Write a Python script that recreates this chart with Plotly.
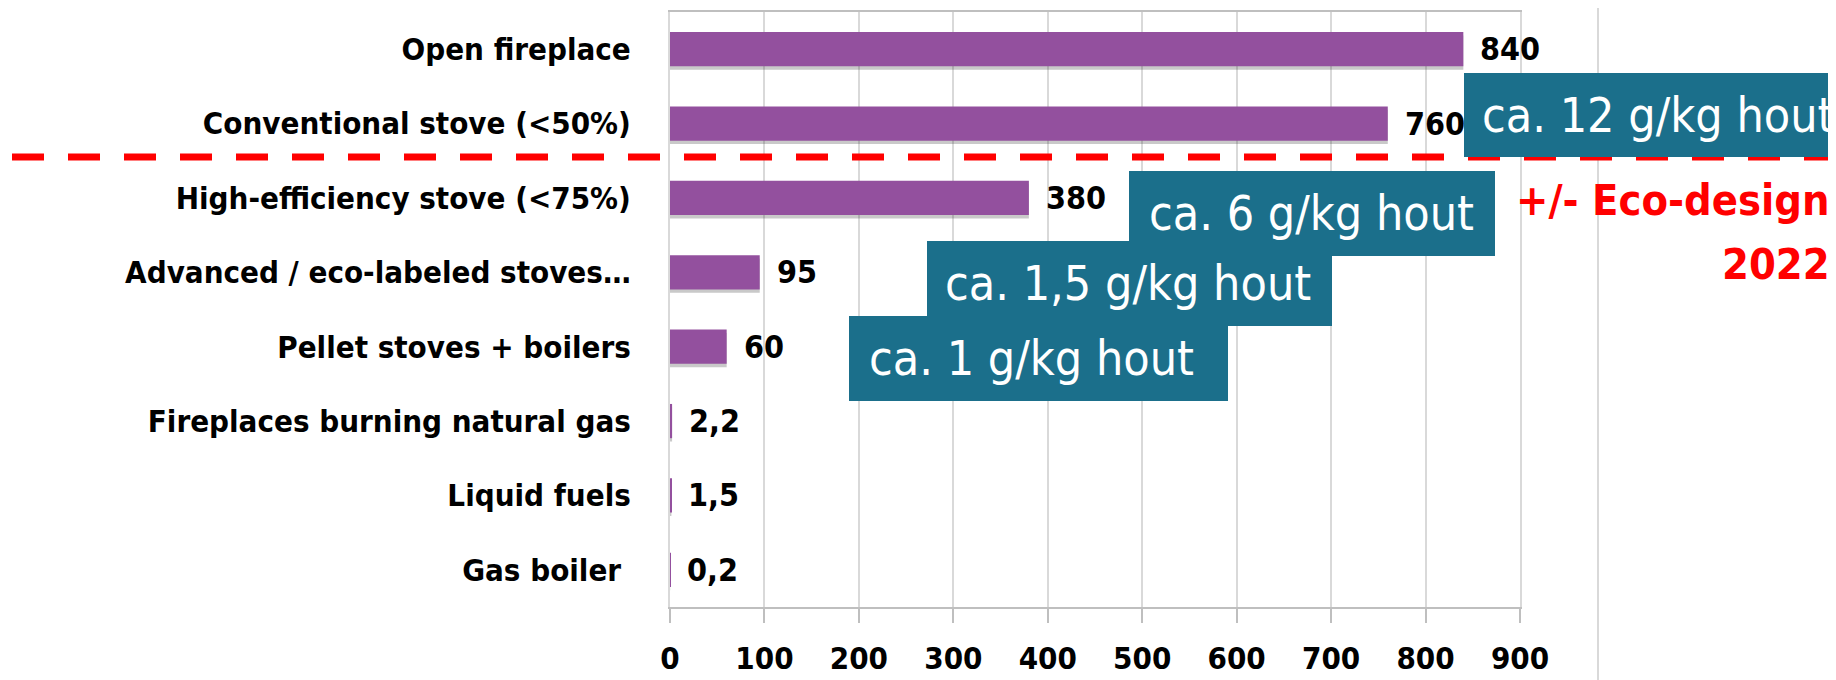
import plotly.graph_objects as go

# ---------------- data ----------------
categories = [
    "Open fireplace",
    "Conventional stove (<50%)",
    "High-efficiency stove (<75%)",
    "Advanced / eco-labeled stoves…",
    "Pellet stoves + boilers",
    "Fireplaces burning natural gas",
    "Liquid fuels",
    "Gas boiler",
]
values = [840, 760, 380, 95, 60, 2.2, 1.5, 0.2]
value_labels = ["840", "760", "380", "95", "60", "2,2", "1,5", "0,2"]
x_ticks = [0, 100, 200, 300, 400, 500, 600, 700, 800, 900]
x_tick_labels = ["0", "100", "200", "300", "400", "500", "600", "700", "800", "900"]

box_texts = ["ca. 12 g/kg hout", "ca. 6 g/kg hout", "ca. 1,5 g/kg hout", "ca. 1 g/kg hout"]
eco_lines = ["+/- Eco-design", "2022"]

# ---------------- layout helpers ----------------
OFF = 8                      # page body margin of the html page
W, H = 1836 - OFF, 680 - OFF
# plot area in page pixels
L_P, R_P, T_P, B_P = 670, 1520, 12, 607
L, R, T, B = L_P - OFF, R_P - OFF, T_P - OFF, B_P - OFF


def px(xp):  # page pixel -> paper
    return (xp - L_P) / (R_P - L_P)


def py(yp):
    return (B_P - yp) / (B_P - T_P)


FONT = "DejaVu Sans Condensed, Liberation Sans Narrow, sans-serif"
BAR = "#93509e"
TEAL = "#1b6f8b"
BW = 0.46

fig = go.Figure()
# soft shadow under the bars
fig.add_trace(go.Bar(
    y=categories, x=values, orientation="h",
    marker=dict(color="rgba(60,60,60,0.28)", line=dict(width=0)),
    width=BW, offset=-BW / 2 + 0.045, hoverinfo="skip",
))
fig.add_trace(go.Bar(
    y=categories, x=values, orientation="h",
    marker=dict(color=BAR, line=dict(width=0)),
    width=BW, offset=-BW / 2, hoverinfo="skip",
))

annotations = []
for c, v, t in zip(categories, values, value_labels):
    annotations.append(dict(
        x=v, y=c, xref="x", yref="y", text="<b>%s</b>" % t, showarrow=False,
        xanchor="left", yanchor="middle", xshift=15,
        font=dict(family=FONT, size=32, color="black"),
    ))

shapes = [
    dict(type="line", xref="paper", yref="paper", x0=px(12), x1=px(1840), y0=py(157), y1=py(157),
         line=dict(color="#ff0000", width=7, dash="32px,24px"), layer="above"),
    dict(type="line", xref="paper", yref="paper", x0=px(1598), x1=px(1598), y0=py(0), y1=py(690),
         line=dict(color="#d9d9d9", width=2), layer="below"),
]

# teal boxes (left, top, right, bottom in page pixels) and text centres
boxes = [(1464, 73, 1860, 157), (1129, 171, 1495, 256), (927, 241, 1332, 326), (849, 316, 1228, 401)]
text_cx = [1658, 1311, 1128, 1031]
# draw lower boxes first so upper boxes sit on top
for (x0, y0, x1, y1) in reversed(boxes):
    shapes.append(dict(type="rect", xref="paper", yref="paper",
                       x0=px(x0), x1=px(x1), y0=py(y1), y1=py(y0),
                       fillcolor=TEAL, line=dict(width=0), layer="above"))
for (x0, y0, x1, y1), cx, t in zip(boxes, text_cx, box_texts):
    annotations.append(dict(
        x=px(cx), y=py(y0 + 42), xref="paper", yref="paper",
        text=t, showarrow=False, xanchor="center", yanchor="middle",
        font=dict(family=FONT, size=48, color="white"),
    ))

for yc, t in zip([200, 264], eco_lines):
    annotations.append(dict(
        x=px(1832), y=py(yc), xref="paper", yref="paper", text="<b>%s</b>" % t,
        showarrow=False, xanchor="right", yanchor="middle", align="right",
        font=dict(family=FONT, size=43, color="#ff0000"),
    ))

y_tick_text = [c + "\u00a0" if c == "Gas boiler" else c for c in categories]

fig.update_layout(
    width=W, height=H,
    margin=dict(l=L, r=W - R, t=T, b=H - B, pad=0, autoexpand=False),
    paper_bgcolor="white", plot_bgcolor="white",
    showlegend=False, barmode="overlay",
    annotations=annotations, shapes=shapes,
    xaxis=dict(
        range=[0, 900], tickvals=x_ticks, ticktext=x_tick_labels,
        showgrid=True, gridcolor="#d9d9d9", gridwidth=1.5,
        showline=True, linecolor="#bfbfbf", linewidth=2, mirror=True,
        ticks="outside", ticklen=14, tickcolor="#bfbfbf", tickwidth=2,
        ticklabelstandoff=9, automargin=False,
        tickfont=dict(family=FONT, size=31, color="black", weight="bold"),
        zeroline=False, fixedrange=True,
    ),
    yaxis=dict(
        autorange="reversed", showgrid=False,
        tickvals=categories, ticktext=y_tick_text,
        showline=True, linecolor="#d9d9d9", linewidth=2, mirror=True,
        ticks="", ticklabelstandoff=31, automargin=False,
        tickfont=dict(family=FONT, size=31, color="black", weight="bold"),
        fixedrange=True,
    ),
)

fig.write_html("out.html")
